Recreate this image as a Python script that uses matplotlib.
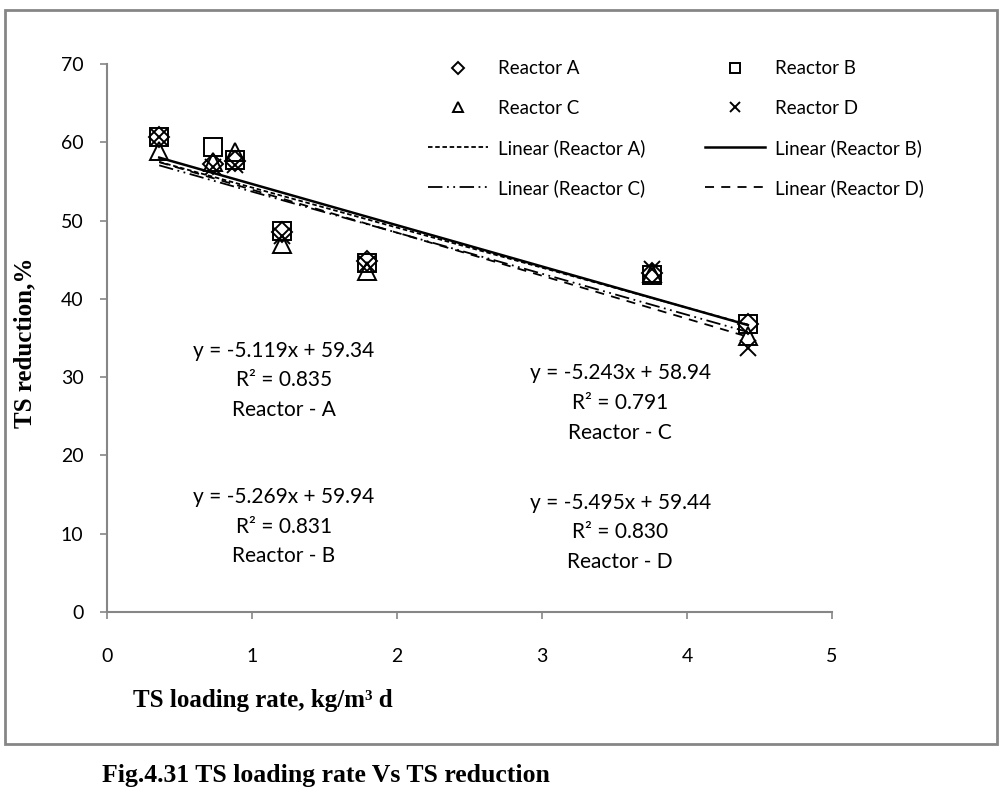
import matplotlib.pyplot as plt
from matplotlib.patches import Rectangle

# TS loading rate, kg/m3 d
loading = [0.36, 0.73, 0.88, 1.21, 1.79, 3.76, 4.42]

# TS reduction, %
reactor_a = [60.7, 57.2, 57.6, 48.5, 44.8, 43.3, 36.8]
reactor_b = [60.7, 59.4, 57.7, 48.7, 44.6, 43.0, 36.8]
reactor_c = [58.9, 57.5, 58.8, 47.0, 43.5, 43.3, 35.2]
reactor_d = [60.7, 56.8, 57.1, 48.0, 44.5, 43.8, 33.7]

# trendline coefficients (slope, intercept) and R^2
slopes = [-5.119, -5.269, -5.243, -5.495]
intercepts = [59.34, 59.94, 58.94, 59.44]
r2 = [0.835, 0.831, 0.791, 0.830]
names = ['A', 'B', 'C', 'D']

xticks = [0, 1, 2, 3, 4, 5]
yticks = [0, 10, 20, 30, 40, 50, 60, 70]

fig = plt.figure(figsize=(10.02, 7.92), dpi=100)
ax = fig.add_axes([0.1068, 0.2273, 0.7235, 0.6919])

sans = ['Lato', 'DejaVu Sans']
serif = 'Liberation Serif'
grey = '#868686'

markers = ['D', 's', '^', 'x']
msizes = [10.5, 12.5, 13, 12]
series = [reactor_a, reactor_b, reactor_c, reactor_d]
styles = [(0, (2.5, 1.5)), '-', (0, (8, 2.5, 1, 2.5, 1, 2.5)), (0, (5, 4))]
widths = [1.3, 1.8, 1.3, 1.3]

pts = []
lines = []
for i in range(4):
    p, = ax.plot(loading, series[i], linestyle='none', marker=markers[i],
                 markersize=msizes[i], markerfacecolor='none',
                 markeredgecolor='black', markeredgewidth=1.4,
                 label='Reactor ' + names[i])
    pts.append(p)
for i in range(4):
    xs = [min(loading), max(loading)]
    ys = [slopes[i] * x + intercepts[i] for x in xs]
    l, = ax.plot(xs, ys, color='black', linestyle=styles[i],
                 linewidth=widths[i], label='Linear (Reactor ' + names[i] + ')')
    lines.append(l)

ax.set_xlim(0, 5)
ax.set_ylim(0, 70)
ax.set_xticks(xticks)
ax.set_yticks(yticks)
for s in ['top', 'right']:
    ax.spines[s].set_visible(False)
for s in ['left', 'bottom']:
    ax.spines[s].set_color(grey)
    ax.spines[s].set_linewidth(1.5)
ax.tick_params(direction='out', color=grey, length=5, width=1.2, labelsize=14)
ax.tick_params(axis='x', pad=21)
ax.tick_params(axis='y', pad=12)
for lab in ax.get_xticklabels() + ax.get_yticklabels():
    lab.set_family(sans)

# legend: two columns, filled column by column
handles = [pts[0], pts[2], lines[0], lines[2], pts[1], pts[3], lines[1], lines[3]]
leg = fig.legend(handles=handles, ncol=2, frameon=False, loc='upper left',
                 bbox_to_anchor=(0.4271, 0.924), borderpad=0, borderaxespad=0,
                 prop={'family': sans, 'size': 13.5},
                 markerscale=0.6, handlelength=3.2, handletextpad=0.53,
                 columnspacing=3.2, labelspacing=1.19)

# equation labels (middle line centred on the given point)
ann_pos = [(1.22, 29.6), (1.22, 10.9), (3.54, 26.7), (3.54, 10.2)]
for i in range(4):
    txt = 'y = %.3fx + %.2f\nR² = %.3f\nReactor - %s' % (
        slopes[i], intercepts[i], r2[i], names[i])
    ax.text(ann_pos[i][0], ann_pos[i][1], txt, ha='center', va='center',
            family=sans, fontsize=15, linespacing=1.6)

fig.text(0.025, 0.567, 'TS reduction,%', rotation=90, family=serif,
         fontweight='bold', fontsize=18, ha='center', va='center')
fig.text(0.133, 0.116, 'TS loading rate, kg/m³ d', family=serif,
         fontweight='bold', fontsize=18, ha='left', va='center')
fig.text(0.102, 0.021, 'Fig.4.31 TS loading rate Vs TS reduction', family=serif,
         fontweight='bold', fontsize=18.5, ha='left', va='center')

fig.patches.append(Rectangle((0.005, 0.06), 0.99, 0.927, transform=fig.transFigure,
                             fill=False, edgecolor=grey, linewidth=2))

fig.savefig('out.png', dpi=100)
